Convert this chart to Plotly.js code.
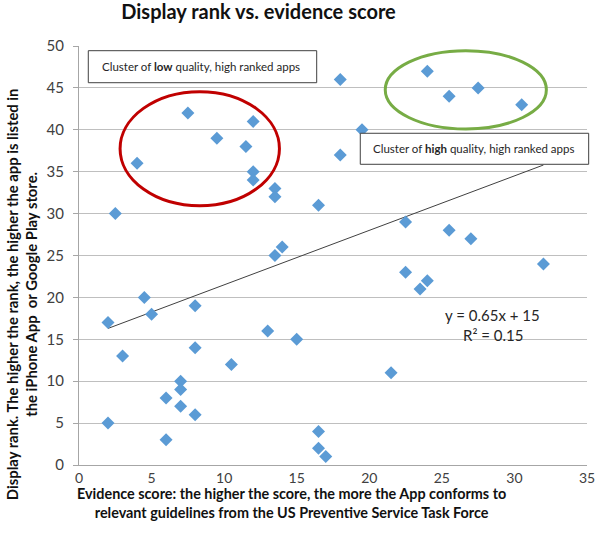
<!DOCTYPE html>
<html><head><meta charset="utf-8">
<script src="https://cdn.plot.ly/plotly-3.0.1.min.js"></script>
<style>html,body{margin:0;padding:0;background:#fff}#chart{width:597px;height:545px}</style>
</head><body><div id="chart"></div>
<script>
// Evidence score (x) and display rank (y) for each app
const evidenceScore = [2,4.5,5,8,3,8,13,15,10.5,7,7,6,7,8,2,6,16.5,16.5,17,13.5,14,
  7.5,12,9.5,11.5,4,12,12,13.5,13.5,16.5,2.5,
  18,24,25.5,27.5,30.5,19.5,18,22.5,25.5,27,
  22.5,24,23.5,32,21.5];
const displayRank = [17,20,18,19,13,14,16,15,12,10,9,8,7,6,5,3,4,2,1,25,26,
  42,41,39,38,36,35,34,33,32,31,30,
  46,47,44,45,43,40,37,29,28,27,
  23,22,21,24,11];
// Linear trend (from the chart's label)
const trendSlope = 0.65;
const trendIntercept = 15;
const trendX = [2, 32];
const trendY = trendX.map(x => trendSlope * x + trendIntercept);
const xTicks = [0,5,10,15,20,25,30,35];
const yTicks = [0,5,10,15,20,25,30,35,40,45,50];

const font = "Lato, 'Open Sans', sans-serif";
const data = [
  {x: trendX, y: trendY, mode: 'lines', type: 'scatter',
   line: {color: '#404040', width: 1}, hoverinfo: 'skip'},
  {x: evidenceScore, y: displayRank, mode: 'markers', type: 'scatter',
   marker: {symbol: 'diamond', size: 10, color: '#5B9BD5'}}
];
const ann = (o) => Object.assign({showarrow: false, xanchor: 'center', yanchor: 'middle'}, o);
const layout = {
  width: 597, height: 545,
  margin: {l: 79, r: 10, t: 46, b: 80},
  paper_bgcolor: '#fff', plot_bgcolor: '#fff',
  showlegend: false,
  font: {family: font, color: '#404040', size: 14},
  title: {text: '<b>Display rank vs. evidence score</b>', x: 0.433, xanchor: 'center',
          y: 0.978, yanchor: 'middle', font: {family: font, size: 20, color: '#111'}},
  xaxis: {range: [0, 35], tickvals: xTicks, ticks: '',
          showgrid: false, zeroline: false, showline: true, linecolor: '#a6a6a6', linewidth: 1,
          tickfont: {size: 14, color: '#404040'}, fixedrange: true},
  xaxis2: {range: [0, 35], overlaying: 'x', side: 'bottom', anchor: 'y', tickvals: xTicks,
           ticks: 'outside', ticklen: 4, tickcolor: '#a6a6a6', showticklabels: false,
           showgrid: false, zeroline: false, showline: false, fixedrange: true},
  yaxis: {range: [0, 50], tickvals: yTicks, ticks: 'outside', ticklen: 5, tickcolor: '#a6a6a6',
          ticklabelstandoff: 6,
          showgrid: true, gridcolor: '#bfbfbf', gridwidth: 1, zeroline: false,
          showline: true, linecolor: '#a6a6a6', linewidth: 1,
          tickfont: {size: 15, color: '#404040'}, fixedrange: true},
  shapes: [
    {type: 'circle', xref: 'x', yref: 'y', x0: 2.83, x1: 13.81, y0: 30.94, y1: 44.55,
     line: {color: '#C00000', width: 3}},
    {type: 'circle', xref: 'x', yref: 'y', x0: 21.1, x1: 32.2, y0: 40.1, y1: 49.44,
     line: {color: '#77AC45', width: 3}},
    {type: 'rect', xref: 'paper', yref: 'paper', x0: 0.0183, x1: 0.4679, y0: 0.9124, y1: 0.9888,
     line: {color: '#404040', width: 1}, fillcolor: '#fff', layer: 'above'},
    {type: 'rect', xref: 'paper', yref: 'paper', x0: 0.5537, x1: 1.0033, y0: 0.7177, y1: 0.7917,
     line: {color: '#404040', width: 1}, fillcolor: '#fff', layer: 'above'}
  ],
  annotations: [
    ann({xref: 'paper', yref: 'paper', x: 0.2392, y: 0.9506, text: 'Cluster of <b>low</b> quality, high ranked apps',
     font: {size: 11.5, color: '#262626'}}),
    ann({xref: 'paper', yref: 'paper', x: 0.7762, y: 0.7547, text: 'Cluster of <b>high</b> quality, high ranked apps',
     font: {size: 11.5, color: '#262626'}}),
    ann({xref: 'x', yref: 'y', x: 28.52, y: 17.9, text: 'y = 0.65x + 15',
     font: {size: 15, color: '#262626'}}),
    ann({xref: 'x', yref: 'y', x: 28.52, y: 15.5, text: 'R² = 0.15',
     font: {size: 15, color: '#262626'}}),
    ann({xref: 'paper', yref: 'paper', x: -0.114, y: 0.408, textangle: -90,
     text: '<b>Display rank. The higher the rank, the higher the app is listed in<br>the iPhone App  or Google Play store.</b>',
     font: {size: 14.8, color: '#111'}}),
    ann({xref: 'paper', yref: 'paper', x: 0.4184, y: -0.0905, borderpad: 0,
     text: '<b>Evidence score: the higher the score, the more the App conforms to<br>relevant guidelines from the US Preventive Service Task Force</b>',
     font: {size: 14.4, color: '#111'}})
  ]
};
Plotly.newPlot('chart', data, layout, {displayModeBar: false, staticPlot: true});
</script></body></html>
